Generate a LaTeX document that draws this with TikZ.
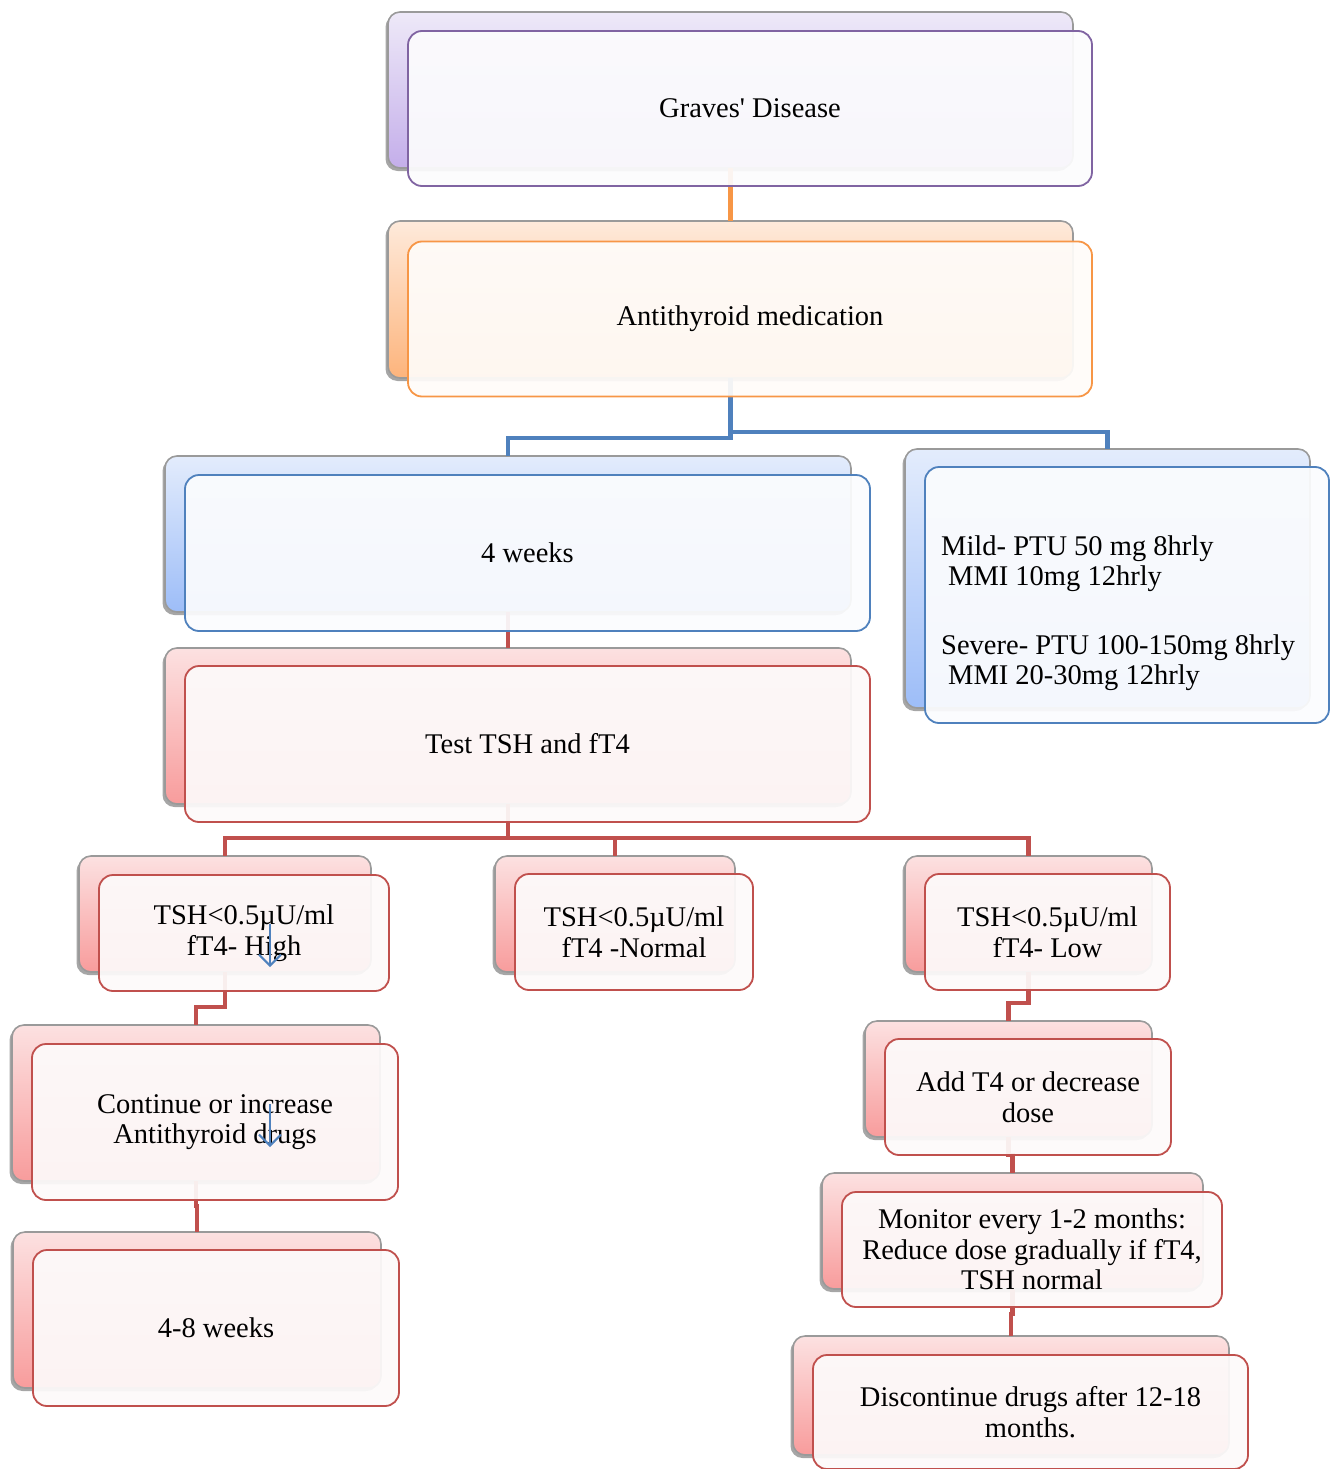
\documentclass[tikz,border=0pt]{standalone}
\usepackage{fontspec}
\setmainfont{Liberation Serif}[Ligatures=TeXOff]
\usetikzlibrary{shadows,arrows.meta}
\definecolor{cPur}{HTML}{8064A2}
\definecolor{cOra}{HTML}{F79646}
\definecolor{cBlu}{HTML}{4F81BD}
\definecolor{cRed}{HTML}{C0504D}
\definecolor{cGrey}{HTML}{9A9A9A}
\definecolor{pTop}{HTML}{EEE9F8}
\definecolor{pBot}{HTML}{C4AEEA}
\definecolor{oTop}{HTML}{FEEADB}
\definecolor{oBot}{HTML}{FDB47C}
\definecolor{bTop}{HTML}{E3ECFC}
\definecolor{bBot}{HTML}{9DBDF8}
\definecolor{rTop}{HTML}{FCE1E1}
\definecolor{rBot}{HTML}{F89C9C}
\tikzset{
  backbox/.style={draw=cGrey, line width=1.6pt, rounded corners=12pt, inner sep=0pt, outer sep=0pt,
     drop shadow={shadow xshift=-2.5pt, shadow yshift=-3pt, opacity=0.35, fill=black}},
  frontbox/.style={draw, line width=1.8pt, rounded corners=14pt, inner sep=0pt, outer sep=0pt,
     fill opacity=0.93, text opacity=1, align=center, font=\fontsize{28.5}{30.5}\selectfont},
  pBack/.style={backbox, top color=pTop, bottom color=pBot},
  oBack/.style={backbox, top color=oTop, bottom color=oBot},
  bBack/.style={backbox, top color=bTop, bottom color=bBot},
  rBack/.style={backbox, top color=rTop, bottom color=rBot},
  pFront/.style={frontbox, draw=cPur, fill=cPur!2},
  oFront/.style={frontbox, draw=cOra, fill=cOra!3},
  bFront/.style={frontbox, draw=cBlu, fill=cBlu!2},
  rFront/.style={frontbox, draw=cRed, fill=cRed!3},
  conn/.style={line width=4.5pt},
  strayarrow/.style={draw=cBlu, line width=2pt, -{Straight Barb[length=11pt,width=22pt,line width=2pt]}}
}
\begin{document}
\begin{tikzpicture}[x=1pt,y=-1pt]
\useasboundingbox (0,0) rectangle (1331,1469);
% back boxes
\path
 node[pBack, minimum width=685pt, minimum height=156pt] (gravesB) at (730.5,90) {}
 node[oBack, minimum width=685pt, minimum height=157pt] (antiB) at (730.5,299.5) {}
 node[bBack, minimum width=686pt, minimum height=156pt] (weekB) at (508,534) {}
 node[bBack, minimum width=405pt, minimum height=259pt] (doseB) at (1107.5,578.5) {}
 node[rBack, minimum width=686pt, minimum height=156pt] (testB) at (508,726) {}
 node[rBack, minimum width=292pt, minimum height=116pt] (highB) at (225,914) {}
 node[rBack, minimum width=240pt, minimum height=116pt] (normB) at (615,914) {}
 node[rBack, minimum width=247pt, minimum height=116pt] (lowB) at (1028.5,914) {}
 node[rBack, minimum width=368pt, minimum height=156pt] (contB) at (196,1103) {}
 node[rBack, minimum width=368pt, minimum height=156pt] (eightB) at (197,1310) {}
 node[rBack, minimum width=287pt, minimum height=116pt] (addB) at (1008.5,1079) {}
 node[rBack, minimum width=381pt, minimum height=116pt] (monB) at (1012.5,1231) {}
 node[rBack, minimum width=436pt, minimum height=119pt] (discB) at (1011,1395.5) {};
% connectors
\draw[conn, cOra] (gravesB.south) -- (antiB.north);
\draw[conn, cBlu] (antiB.south) -- ++(0,54) -| (doseB.north);
\draw[conn, cBlu] (antiB.south) -- ++(0,60) -| (weekB.north);
\draw[conn, cRed] (weekB.south) -- (testB.north);
\draw[conn, cRed] (testB.south) -- ++(0,34) -| (highB.north);
\draw[conn, cRed] (testB.south) -- ++(0,34) -| (normB.north);
\draw[conn, cRed] (testB.south) -- ++(0,34) -| (lowB.north);
\draw[conn, cRed] (highB.south) -- ++(0,35) -| (contB.north);
\draw[conn, cRed] (contB.south) -- ++(0,25) -| (eightB.north);
\draw[conn, cRed] (lowB.south) -- ++(0,31) -| (addB.north);
\draw[conn, cRed] (addB.south) -- ++(0,18) -| (monB.north);
\draw[conn, cRed] (monB.south) -- ++(0,25) -| (discB.north);
% front boxes
\node[pFront, minimum width=684pt, minimum height=155pt] (graves) at (750,108.5) {Graves' Disease};
\node[oFront, minimum width=684pt, minimum height=155pt] (anti) at (750,319) {Antithyroid medication};
\node[bFront, minimum width=685pt, minimum height=156pt] (week) at (527.5,553) {4 weeks};
\node[bFront, minimum width=404pt, minimum height=256pt] (dose) at (1127,595) {};
\node[rFront, minimum width=685pt, minimum height=156pt] (test) at (527.5,744) {Test TSH and fT4};
\node[rFront, minimum width=290pt, minimum height=116pt] (high) at (244,933) {TSH<0.5µU/ml\\fT4- High};
\node[rFront, minimum width=238pt, minimum height=116pt] (norm) at (634,932) {TSH<0.5µU/ml\\fT4 -Normal};
\node[rFront, minimum width=245pt, minimum height=116pt] (low) at (1047.5,932) {TSH<0.5µU/ml\\fT4- Low};
\node[rFront, minimum width=366pt, minimum height=156pt] (cont) at (215,1122) {Continue or increase\\Antithyroid drugs};
\node[rFront, minimum width=366pt, minimum height=156pt] (eight) at (216,1328) {4-8 weeks};
\node[rFront, minimum width=286pt, minimum height=116pt] (add) at (1028,1097) {Add T4 or decrease\\dose};
\node[rFront, minimum width=380pt, minimum height=115pt] (mon) at (1032,1249.5) {Monitor every 1-2 months:\\Reduce dose gradually if fT4,\\TSH normal};
\node[rFront, minimum width=435pt, minimum height=114pt] (disc) at (1030.5,1412) {Discontinue drugs after 12-18\\months.};
% dose text
\node[anchor=west, align=left, inner sep=0pt, font=\fontsize{28.5}{29.5}\selectfont] (dosetext) at (941,613)
 {Mild- PTU 50 mg 8hrly\\\hspace{7pt}MMI 10mg 12hrly\\[40pt]Severe- PTU 100-150mg 8hrly\\\hspace{7pt}MMI 20-30mg 12hrly};
% stray arrows
\coordinate (a1s) at (270,924);
\coordinate (a1e) at (270,967);
\coordinate (a2s) at (270,1104);
\coordinate (a2e) at (270,1147);
\draw[strayarrow] (a1s) -- (a1e);
\draw[strayarrow] (a2s) -- (a2e);
\end{tikzpicture}
\end{document}
